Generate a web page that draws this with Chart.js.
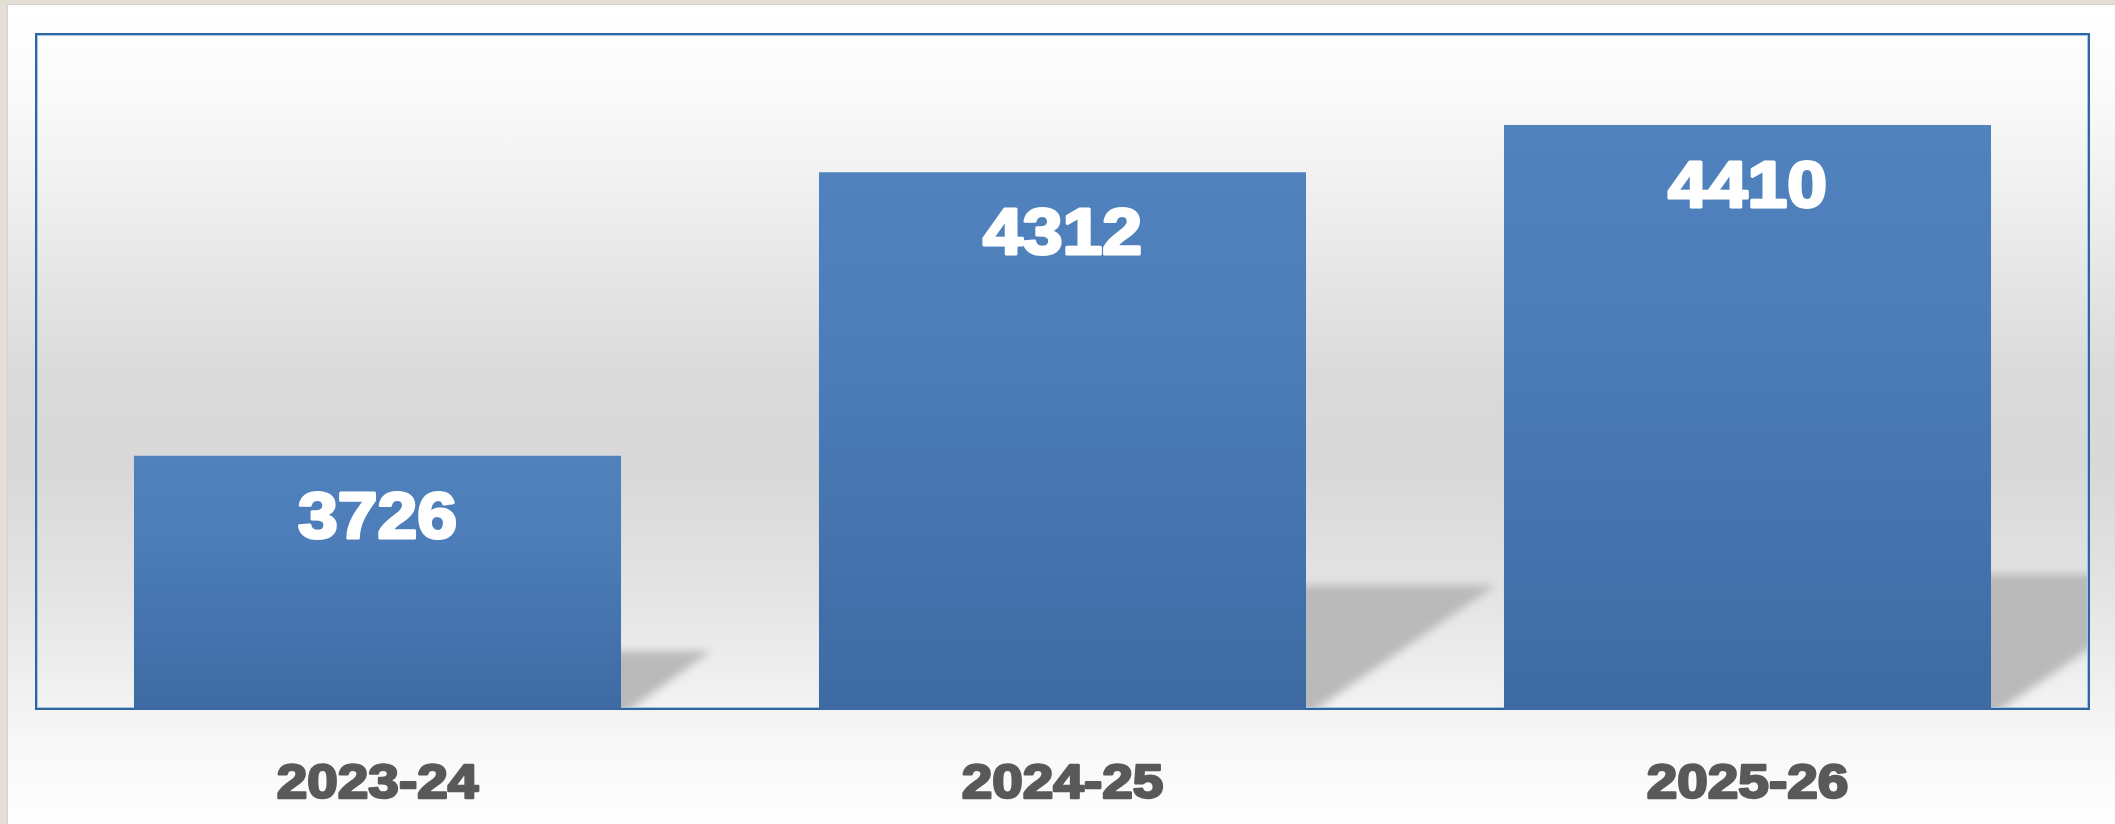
<!DOCTYPE html>
<html>
<head>
<meta charset="utf-8">
<script src="https://cdn.jsdelivr.net/npm/chart.js@4.4.1/dist/chart.umd.min.js"></script>
<style>
  html, body { margin: 0; padding: 0; background: #e4dfd5; overflow: hidden; }
  .frame {
    position: absolute; left: 7px; top: 4px;
    width: 2107px; height: 819px;
    border-left: 1px solid #d6d4d0; border-top: 1px solid #d6d4d0;
    background: linear-gradient(to bottom,
      #ffffff 0px, #fafafa 90px, #ebebeb 230px, #dadada 370px,
      #d8d8d8 460px, #e3e3e3 580px, #f1f1f1 690px, #f8f8f8 740px, #fefefe 819px);
  }
  canvas { display: block; }
</style>
</head>
<body>
<div class="frame"><canvas id="chart" width="2107" height="819"></canvas></div>
<script>
// --- data ---
const years = ['2023-24', '2024-25', '2025-26'];
const counts = [3726, 4312, 4410];
const yMin = 3200;
const yMax = 4600;

const BAR_TOP = '#5082be';
const BAR_MID = '#4c7db9';
const BAR_BOTTOM = '#3d6aa3';
const BAR_PCT = 0.711;

// floor shadow behind every bar, skewed to the right
const shadowPlugin = {
  id: 'barShadow',
  beforeDatasetsDraw(chart) {
    const { ctx, chartArea: a } = chart;
    const xs = chart.scales.x;
    const ys = chart.scales.y;
    const half = (a.right - a.left) / years.length * BAR_PCT / 2;
    const OFF = 4000; // shape drawn off-canvas, only its blurred shadow lands
    ctx.save();
    ctx.beginPath();
    ctx.rect(a.left, a.top, a.right - a.left, a.bottom - a.top);
    ctx.clip();
    ctx.shadowColor = '#bababa';
    ctx.shadowBlur = 9;
    ctx.shadowOffsetX = OFF;
    ctx.shadowOffsetY = 0;
    ctx.fillStyle = '#bababa';
    counts.forEach((v, i) => {
      const x = xs.getPixelForValue(i);
      const top = ys.getPixelForValue(v);
      const base = a.bottom;
      const h = (base - top) * 0.232;
      const dx = h * 1.52;
      ctx.beginPath();
      ctx.moveTo(x - half - OFF, base + 6);
      ctx.lineTo(x + half - OFF, base + 6);
      ctx.lineTo(x + half + dx - OFF, base - h);
      ctx.lineTo(x - half + dx - OFF, base - h);
      ctx.closePath();
      ctx.fill();
    });
    ctx.restore();

    // plot frame
    ctx.save();
    ctx.strokeStyle = '#2c67a1';
    ctx.lineWidth = 2;
    ctx.strokeRect(a.left + 1, a.top + 1, a.right - a.left - 2, a.bottom - a.top - 2);
    ctx.strokeStyle = '#a8c3e1';
    ctx.lineWidth = 1;
    ctx.strokeRect(a.left + 2.5, a.top + 2.5, a.right - a.left - 5, a.bottom - a.top - 5);
    ctx.restore();
  }
};

// heavy value labels inside the bars and category labels under the plot
const labelPlugin = {
  id: 'heavyLabels',
  afterDatasetsDraw(chart) {
    const { ctx } = chart;
    const meta = chart.getDatasetMeta(0);
    const xs = chart.scales.x;
    const heavy = (txt, x, y, size, sx, color, lw) => {
      ctx.save();
      ctx.translate(x, y);
      ctx.scale(sx, 1);
      ctx.font = 'bold ' + size + 'px "Liberation Sans", Arial, sans-serif';
      ctx.textAlign = 'center';
      ctx.textBaseline = 'alphabetic';
      ctx.fillStyle = color;
      ctx.strokeStyle = color;
      ctx.lineWidth = lw;
      ctx.lineJoin = 'round';
      ctx.fillText(txt, 0, 0);
      ctx.strokeText(txt, 0, 0);
      ctx.restore();
    };
    meta.data.forEach((bar, i) => {
      heavy(String(counts[i]), bar.x, bar.y + 82, 65, 1.1, '#ffffff', 3);
    });
    years.forEach((yr, i) => {
      heavy(yr, xs.getPixelForValue(i), 793, 49, 1.12, '#595959', 2.5);
    });
  }
};

new Chart(document.getElementById('chart'), {
  type: 'bar',
  data: {
    labels: years,
    datasets: [{
      data: counts,
      borderWidth: 0,
      categoryPercentage: 1,
      barPercentage: BAR_PCT,
      backgroundColor(c) {
        const chart = c.chart;
        if (!chart.chartArea || c.type !== 'data') return BAR_MID;
        const ys = chart.scales.y;
        const top = ys.getPixelForValue(c.parsed.y);
        const bottom = chart.chartArea.bottom;
        const g = chart.ctx.createLinearGradient(0, top, 0, bottom);
        g.addColorStop(0, BAR_TOP);
        g.addColorStop(0.35, BAR_MID);
        g.addColorStop(1, BAR_BOTTOM);
        return g;
      }
    }]
  },
  options: {
    responsive: false,
    animation: false,
    events: [],
    layout: { padding: { left: 27, top: 28, right: 25, bottom: 114 } },
    plugins: { legend: { display: false }, tooltip: { enabled: false } },
    scales: {
      x: { display: false },
      y: { display: false, min: yMin, max: yMax }
    }
  },
  plugins: [shadowPlugin, labelPlugin]
});
</script>
</body>
</html>
